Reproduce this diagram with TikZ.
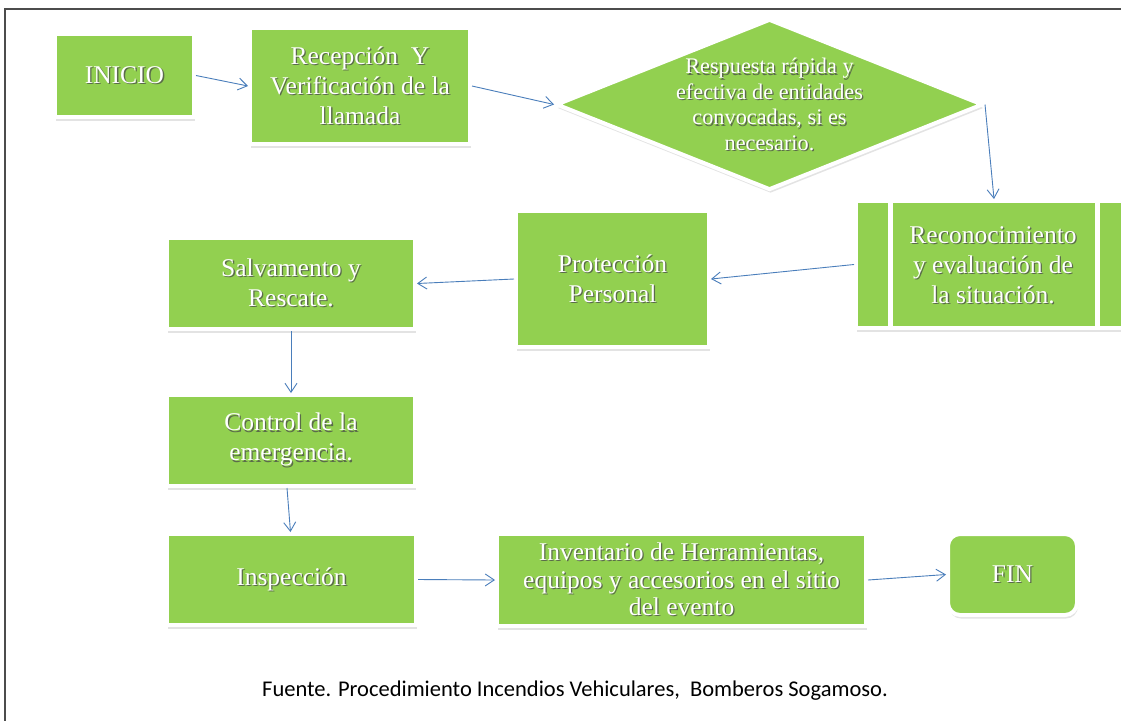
\documentclass[tikz,border=0pt]{standalone}
\usepackage{fontspec}
\setmainfont{Liberation Serif}
\newfontfamily\capfont{Carlito}
\usetikzlibrary{arrows.meta,shapes.geometric,shadows,calc}
\definecolor{grn}{HTML}{92D050}
\definecolor{arrblue}{HTML}{4A7EBB}
\definecolor{tshadow}{HTML}{5A6B4A}
\newcommand\ts[1]{\leavevmode\rlap{\kern1.3pt\raisebox{-1.3pt}{\textcolor{tshadow}{#1}}}#1}
\begin{document}
\begin{tikzpicture}[x=1pt,y=-1pt,
  gbox/.style={rectangle, fill=grn, draw=white, line width=4pt, inner sep=0pt,
    text=white, align=center, font=\fontsize{25.5}{30}\selectfont,
    drop shadow={shadow xshift=1pt, shadow yshift=-3.5pt, opacity=0.22}},
  gtext/.style={text=white, align=center, inner sep=0pt, font=\fontsize{25.5}{30}\selectfont},
  gdia/.style={diamond, fill=grn, draw=white, line width=4pt, inner sep=0pt,
    drop shadow={shadow xshift=1pt, shadow yshift=-3.5pt, opacity=0.22}},
  dtext/.style={text=white, align=center, inner sep=0pt, font=\fontsize{22.3}{25.5}\selectfont},
  arr/.style={draw=arrblue, line width=0.9pt, -{Straight Barb[length=9pt,width=12pt]}},
  frame/.style={draw=black!70, line width=1.5pt},
  captext/.style={font=\capfont\fontsize{22.5}{26}\selectfont, text=black, inner sep=0pt}
]
\clip (0,0) rectangle (1121,721);
\useasboundingbox (0,0) rectangle (1121,721);
\fill[white] (0,0) rectangle (1121,721);
\draw[frame] (1121,9) -- (5,9) -- (5,721);

\node[gbox, minimum width=139pt, minimum height=83pt] (ini) at (124.5,75.5) {\ts{INICIO}};
\node[gbox, minimum width=220pt, minimum height=116pt] (rec) at (360,86) {\ts{Recepción\ \ Y}\\\ts{Verificación de la}\\\ts{llamada}};
\node[gdia, minimum width=427pt, minimum height=171pt] (dia) at (769.5,104.5) {};
\node[dtext] (diat) at (769.5,105) {\ts{Respuesta rápida y}\\\ts{efectiva de entidades}\\\ts{convocadas, si es}\\\ts{necesario.}};
\node[gbox, minimum width=276pt, minimum height=127pt] (reco) at (994,264.5) {};
\fill[white] (888,201) rectangle (893,328);
\fill[white] (1095,201) rectangle (1100,328);
\node[gtext] (recot) at (993,266) {\ts{Reconocimiento}\\\ts{y evaluación de}\\\ts{la situación.}};
\node[gbox, minimum width=193pt, minimum height=136pt] (prot) at (612.5,279) {\ts{Protección}\\\ts{Personal}};
\node[gbox, minimum width=248pt, minimum height=91pt] (salv) at (291,283.5) {\ts{Salvamento y}\\\ts{Rescate.}};
\node[gbox, minimum width=248pt, minimum height=91pt] (ctrl) at (291,440.5) {\ts{Control de la}\\\ts{emergencia.}};
\node[gbox, minimum width=249pt, minimum height=91pt] (insp) at (291.5,579.5) {\ts{Inspección}};
\node[gbox, minimum width=369pt, minimum height=92pt, font=\fontsize{25.5}{27.5}\selectfont] (inv) at (681.5,580) {\ts{Inventario de Herramientas,}\\\ts{equipos y accesorios en el sitio}\\\ts{del evento}};
\node[gbox, rounded corners=12pt, minimum width=129pt, minimum height=81pt] (fin) at (1012.5,574.5) {\ts{FIN}};

\node[captext] (src) at (575,691) {Fuente. Procedimiento Incendios Vehiculares,\ \ Bomberos Sogamoso.};

\draw[arr] (ini.east) -- (rec.west);
\draw[arr] (rec.east) -- (dia.west);
\draw[arr] (dia.east) -- (reco.north);
\draw[arr] (reco.west) -- (prot.east);
\draw[arr] (prot.west) -- (salv.east);
\draw[arr] (salv.south) -- (ctrl.north);
\draw[arr] ([xshift=-4pt]ctrl.south) -- ([xshift=-1pt]insp.north);
\draw[arr] (insp.east) -- (inv.west);
\draw[arr] (inv.east) -- (fin.west);
\end{tikzpicture}
\end{document}
